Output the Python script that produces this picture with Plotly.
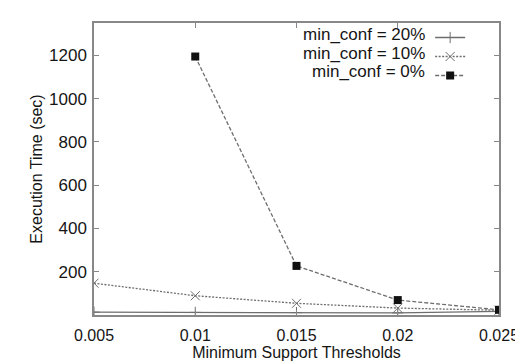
import plotly.graph_objects as go

support = [0.005, 0.01, 0.015, 0.02, 0.025]
conf20 = [13, 12, 11, 10, 17]
conf10 = [147, 89, 54, 32, 22]
support0 = [0.01, 0.015, 0.02, 0.025]
conf0 = [1195, 227, 69, 24]
labels = ["min_conf = 20%", "min_conf = 10%", "min_conf = 0%"]
x_ticks = [0.005, 0.01, 0.015, 0.02, 0.025]
x_ticktext = ["0.005", "0.01", "0.015", "0.02", "0.025"]
y_ticks = [200, 400, 600, 800, 1000, 1200]

FONT = "Liberation Sans, Arial, sans-serif"
LINE = "#6e6e6e"
TXT = "#151515"

fig = go.Figure()
fig.add_trace(go.Scatter(x=support, y=conf20, name=labels[0], mode="lines+markers",
                         line=dict(color=LINE, width=1.3),
                         marker=dict(symbol="cross-thin-open", size=8, color=LINE,
                                     line=dict(color=LINE, width=1))))
fig.add_trace(go.Scatter(x=support, y=conf10, name=labels[1], mode="lines+markers",
                         line=dict(color=LINE, width=1.3, dash="2px,1.5px"),
                         marker=dict(symbol="x-thin-open", size=9, color=LINE,
                                     line=dict(color=LINE, width=1))))
fig.add_trace(go.Scatter(x=support0, y=conf0, name=labels[2], mode="lines+markers",
                         line=dict(color=LINE, width=1.3, dash="4px,2px"),
                         marker=dict(symbol="square", size=8, color="#111")))

# legend text (right-aligned, placed left of the legend samples)
row_y = [0.960, 0.897, 0.833]
for lab, yy in zip(labels, row_y):
    fig.add_annotation(text=lab, xref="paper", yref="paper", x=0.822, y=yy,
                       xanchor="right", yanchor="middle", showarrow=False,
                       font=dict(family=FONT, size=17, color=TXT))

fig.update_layout(
    width=523, height=362,
    margin=dict(l=86, r=21, t=15, b=48),
    paper_bgcolor="white", plot_bgcolor="white",
    font=dict(family=FONT, color=TXT),
    showlegend=True,
    legend=dict(x=0.83, y=1.0, xanchor="left", yanchor="top",
                bgcolor="rgba(0,0,0,0)", borderwidth=0,
                font=dict(size=1, color="rgba(0,0,0,0)"),
                itemwidth=30, tracegroupgap=0),
    xaxis=dict(range=[0.005, 0.025], tickvals=x_ticks, ticktext=x_ticktext,
               showgrid=False, zeroline=False, showline=True, linecolor="#888",
               linewidth=1.5, mirror="ticks", ticks="inside", ticklen=5,
               tickcolor="#888", ticklabelstandoff=5,
               tickfont=dict(size=16, family=FONT, color=TXT),
               title=dict(text="Minimum Support Thresholds", standoff=3,
                          font=dict(size=16, family=FONT, color=TXT))),
    yaxis=dict(range=[0, 1350], tickvals=y_ticks,
               showgrid=False, zeroline=False, showline=True, linecolor="#888",
               linewidth=1.5, mirror="ticks", ticks="inside", ticklen=5,
               tickcolor="#888", ticklabelstandoff=2,
               tickfont=dict(size=17, family=FONT, color=TXT),
               title=dict(text="Execution Time (sec)", standoff=2,
                          font=dict(size=16, family=FONT, color=TXT))),
)

fig.write_html("out.html")
